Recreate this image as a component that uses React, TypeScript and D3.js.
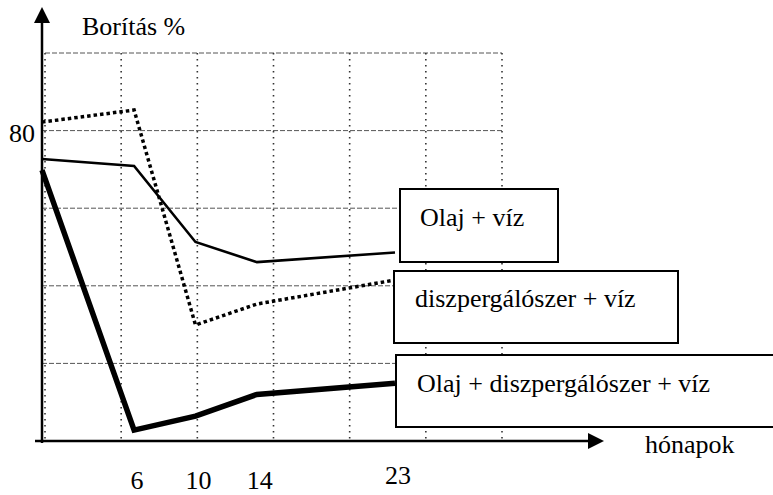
import * as React from "react";
import * as d3 from "d3";

// months on the x axis
const months = [0, 6, 10, 14, 23];
// coverage (%) per series
const olajViz = [72.7, 70.9, 51.3, 46.1, 48.6];
const diszpViz = [82.2, 85.3, 29.9, 35.3, 41.5];
const olajDiszpViz = [69.8, 2.8, 6.4, 12.0, 14.9];

const xTickLabels = [6, 10, 14, 23];
const yTickLabels = [80];
const seriesNames = ["Olaj + víz", "diszpergálószer + víz", "Olaj + diszpergálószer + víz"];

const W = 773;
const H = 495;
const FONT = '"Liberation Serif", Tinos, "Times New Roman", "DejaVu Serif", "Noto Serif", serif';

const App: React.FC = () => {
    const x = d3.scaleLinear().domain([0, 23]).range([42, 395]);
    const y = d3.scaleLinear().domain([0, 100]).range([441, 53]);
    // the vertical grid does not follow the month scale in the original
    const gx = d3.scaleLinear().domain([0, 6]).range([45, 502]);

    const line = d3.line<number>()
        .x((_, i) => x(months[i]))
        .y(d => y(d));

    const hLines = [20, 40, 60, 80, 100];

    const boxes = [
        { x: 400, y: 189, w: 158, h: 73, tx: 420, ty: 226 },
        { x: 394, y: 271, w: 284, h: 72, tx: 415, ty: 307 },
        { x: 396, y: 355, w: 390, h: 72, tx: 417, ty: 392 },
    ];

    return (
        <svg width={W} height={H}
            style={{ position: "absolute", left: 0, top: 0, background: "#fff", fontFamily: FONT, fontSize: 26 }}>
            {/* grid */}
            {hLines.map(v => (
                <line key={"h" + v} x1={v === 100 ? 45 : 42} x2={502} y1={y(v)} y2={y(v)}
                    stroke="#555" strokeWidth={1} strokeDasharray="5,2" />
            ))}
            {d3.range(7).map(i => (
                <line key={"v" + i} x1={gx(i)} x2={gx(i)} y1={y(100)} y2={y(0)}
                    stroke="#333" strokeWidth={1.6} strokeDasharray="1.6,4.4" />
            ))}

            {/* axes */}
            <line x1={42} x2={42} y1={20} y2={443} stroke="#000" strokeWidth={2.5} />
            <path d="M42,7 L34,23 L50,23 Z" fill="#000" />
            <line x1={35} x2={592} y1={441} y2={441} stroke="#000" strokeWidth={2.5} />
            <path d="M604,441 L588,433 L588,449 Z" fill="#000" />

            <text x={82} y={35}>Borítás %</text>
            <text x={645} y={453}>hónapok</text>
            {yTickLabels.map(v => (
                <text key={v} x={35} y={y(v) + 11} textAnchor="end">{v}</text>
            ))}
            {xTickLabels.map(m => (
                <text key={m} x={x(m) + 3} y={m === 23 ? 484 : 489} textAnchor="middle">{m}</text>
            ))}

            {/* series */}
            <path d={line(diszpViz) || ""} fill="none" stroke="#000" strokeWidth={3.5} strokeDasharray="3.5,3" />
            <path d={line(olajViz) || ""} fill="none" stroke="#000" strokeWidth={2.6} />
            <path d={line(olajDiszpViz) || ""} fill="none" stroke="#000" strokeWidth={5.5} />

            {/* labels in boxes */}
            {boxes.map((b, i) => (
                <g key={i}>
                    <rect x={b.x} y={b.y} width={b.w} height={b.h} fill="#fff" stroke="#000" strokeWidth={2} />
                    <text x={b.tx} y={b.ty}>{seriesNames[i]}</text>
                </g>
            ))}
        </svg>
    );
};

export default App;
